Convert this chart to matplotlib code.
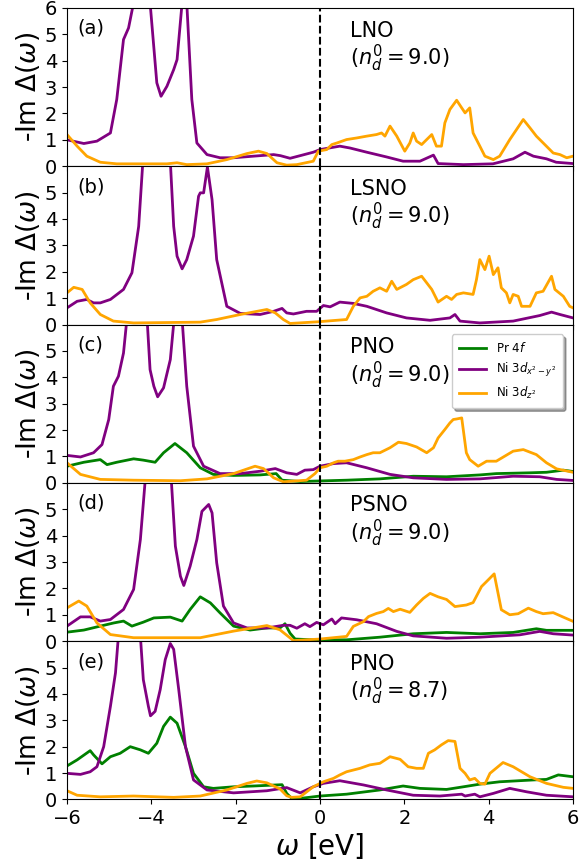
import numpy as np
import matplotlib.pyplot as plt

# hybridization functions, (omega, -Im Delta) pairs per orbital
# (a) LNO
lno_dx2 = [(-6, 1.0), (-5.6, 0.86), (-5.29, 0.95), (-4.97, 1.26), (-4.82, 2.53), (-4.66, 4.8),
           (-4.54, 5.24), (-4.42, 6.2), (-4.22, 9.0), (-4.03, 6.2), (-3.87, 3.16), (-3.77, 2.65),
           (-3.63, 3.03), (-3.47, 3.66), (-3.39, 4.04), (-3.27, 6.2), (-3.21, 8.0), (-3.16, 6.2),
           (-3.04, 2.53), (-2.92, 0.88), (-2.68, 0.44), (-2.37, 0.32), (-2.05, 0.32), (-1.58, 0.38),
           (-1.1, 0.44), (-0.94, 0.4), (-0.71, 0.3), (-0.47, 0.4), (-0.16, 0.53), (0.0, 0.63),
           (0.47, 0.76), (0.71, 0.69), (1.11, 0.53), (1.58, 0.35), (1.97, 0.19), (2.37, 0.19),
           (2.69, 0.42), (2.8, 0.1), (3.4, 0.06), (4.1, 0.09), (4.58, 0.28), (4.86, 0.53),
           (5.06, 0.38), (5.37, 0.28), (5.6, 0.15), (6.0, 0.1)]
lno_dz2 = [(-6, 1.2), (-5.76, 0.76), (-5.53, 0.38), (-5.21, 0.15), (-4.82, 0.09), (-3.63, 0.09),
           (-3.39, 0.13), (-3.16, 0.06), (-2.68, 0.09), (-2.21, 0.25), (-1.73, 0.48), (-1.46, 0.57),
           (-1.26, 0.48), (-1.02, 0.13), (-0.79, 0.04), (-0.55, 0.06), (-0.16, 0.19), (-0.04, 0.57),
           (0.16, 0.63), (0.28, 0.82), (0.4, 0.88), (0.63, 1.01), (0.87, 1.07), (1.11, 1.14),
           (1.34, 1.2), (1.46, 1.26), (1.54, 1.14), (1.66, 1.52), (1.82, 1.14), (2.01, 0.57),
           (2.13, 0.88), (2.21, 1.26), (2.29, 0.95), (2.41, 0.82), (2.65, 1.2), (2.76, 0.76),
           (2.88, 0.76), (2.96, 1.64), (3.08, 2.15), (3.24, 2.5), (3.36, 2.21), (3.44, 2.02),
           (3.55, 2.21), (3.63, 1.26), (3.79, 0.76), (3.91, 0.38), (4.11, 0.25), (4.26, 0.38),
           (4.5, 1.01), (4.82, 1.77), (4.98, 1.45), (5.13, 1.14), (5.33, 0.82), (5.53, 0.5),
           (5.69, 0.44), (5.85, 0.32), (6.0, 0.38)]

# (b) LSNO
lsno_dx2 = [(-6, 0.63), (-5.76, 0.88), (-5.53, 0.95), (-5.37, 0.82), (-5.21, 0.82), (-4.97, 0.95),
            (-4.66, 1.33), (-4.46, 1.96), (-4.3, 3.72), (-4.2, 6.2), (-3.9, 9.0), (-3.55, 6.2),
            (-3.47, 3.72), (-3.39, 2.59), (-3.27, 2.11), (-3.16, 2.46), (-3.0, 3.35), (-2.88, 4.86),
            (-2.84, 4.99), (-2.76, 4.99), (-2.67, 5.97), (-2.56, 4.73), (-2.45, 2.46), (-2.21, 0.69),
            (-1.89, 0.42), (-1.42, 0.38), (-1.1, 0.5), (-0.9, 0.61), (-0.79, 0.44), (-0.63, 0.4),
            (-0.32, 0.5), (-0.08, 0.5), (0.08, 0.72), (0.24, 0.67), (0.47, 0.85), (0.79, 0.8),
            (1.11, 0.69), (1.58, 0.44), (2.05, 0.25), (2.61, 0.16), (3.08, 0.25), (3.2, 0.38),
            (3.32, 0.13), (3.79, 0.06), (4.58, 0.13), (5.21, 0.34), (5.49, 0.47), (5.69, 0.38),
            (6.0, 0.25)]
lsno_dz2 = [(-6, 1.2), (-5.84, 1.41), (-5.64, 1.33), (-5.45, 0.82), (-5.21, 0.38), (-4.9, 0.13),
            (-4.42, 0.06), (-2.84, 0.09), (-2.45, 0.19), (-1.89, 0.38), (-1.26, 0.57), (-1.06, 0.44),
            (-0.87, 0.19), (-0.71, 0.04), (-0.08, 0.1), (0.63, 0.19), (0.79, 0.69), (0.95, 1.01),
            (1.11, 1.07), (1.26, 1.26), (1.42, 1.39), (1.58, 1.26), (1.7, 1.64), (1.82, 1.33),
            (2.05, 1.52), (2.21, 1.7), (2.41, 1.83), (2.53, 1.58), (2.65, 1.33), (2.8, 0.85),
            (3.0, 1.07), (3.12, 0.95), (3.24, 1.14), (3.4, 1.2), (3.63, 1.14), (3.71, 1.7),
            (3.79, 2.46), (3.91, 2.08), (4.01, 2.59), (4.11, 1.89), (4.22, 2.15), (4.3, 1.39),
            (4.42, 1.2), (4.5, 0.82), (4.58, 1.14), (4.7, 1.07), (4.78, 0.69), (4.98, 0.69),
            (5.13, 1.2), (5.29, 1.26), (5.49, 1.83), (5.57, 1.33), (5.77, 1.07), (5.92, 0.69),
            (6.0, 0.63)]

# (c) PNO, n_d = 9.0
pno_f = [(-6, 0.63), (-5.6, 0.78), (-5.21, 0.88), (-5.05, 0.69), (-4.82, 0.78), (-4.42, 0.91),
         (-4.19, 0.86), (-3.91, 0.78), (-3.71, 1.14), (-3.44, 1.49), (-3.16, 1.14), (-2.84, 0.57),
         (-2.53, 0.32), (-2.05, 0.28), (-1.42, 0.3), (-1.04, 0.35), (-0.9, 0.1), (-0.47, 0.05),
         (0.63, 0.1), (1.42, 0.15), (2.21, 0.25), (3.0, 0.23), (3.79, 0.3), (4.18, 0.35),
         (4.98, 0.38), (5.37, 0.4), (5.77, 0.48), (6.0, 0.43)]
pno_dx2 = [(-6, 1.04), (-5.68, 0.98), (-5.37, 1.14), (-5.17, 1.45), (-5.01, 2.4), (-4.9, 3.66),
           (-4.78, 4.04), (-4.66, 4.92), (-4.58, 6.2), (-4.35, 9.0), (-4.1, 6.2), (-4.03, 4.29),
           (-3.94, 3.66), (-3.85, 3.26), (-3.71, 3.6), (-3.55, 4.67), (-3.46, 6.2), (-3.37, 7.5),
           (-3.27, 6.2), (-3.16, 3.66), (-3.0, 1.39), (-2.76, 0.63), (-2.37, 0.35), (-1.89, 0.35),
           (-1.42, 0.44), (-1.06, 0.54), (-0.79, 0.38), (-0.55, 0.32), (-0.36, 0.48), (-0.16, 0.5),
           (0.0, 0.63), (0.32, 0.73), (0.63, 0.76), (1.11, 0.57), (1.66, 0.32), (2.21, 0.19),
           (3.0, 0.13), (3.79, 0.15), (4.58, 0.25), (5.21, 0.23), (5.61, 0.13), (6.0, 0.09)]
pno_dz2 = [(-6, 0.76), (-5.68, 0.32), (-5.21, 0.13), (-4.42, 0.1), (-3.31, 0.08), (-2.68, 0.15),
           (-2.05, 0.35), (-1.54, 0.63), (-1.34, 0.54), (-1.1, 0.19), (-0.87, 0.04), (-0.32, 0.1),
           (-0.12, 0.35), (0.0, 0.57), (0.16, 0.63), (0.32, 0.76), (0.43, 0.82), (0.59, 0.82),
           (0.79, 0.88), (0.95, 0.98), (1.11, 1.07), (1.26, 1.14), (1.42, 1.14), (1.66, 1.33),
           (1.86, 1.54), (2.05, 1.49), (2.29, 1.36), (2.53, 1.14), (2.69, 1.33), (2.8, 1.7),
           (2.96, 2.02), (3.08, 2.27), (3.16, 2.4), (3.24, 2.42), (3.36, 2.46), (3.47, 1.14),
           (3.55, 0.88), (3.75, 0.63), (3.95, 0.82), (4.18, 0.82), (4.58, 1.2), (4.82, 1.26),
           (5.13, 1.07), (5.37, 0.76), (5.61, 0.53), (6.0, 0.4)]

# (d) PSNO
psno_f = [(-6, 0.34), (-5.6, 0.42), (-5.21, 0.57), (-4.89, 0.69), (-4.66, 0.76), (-4.46, 0.57),
          (-4.19, 0.72), (-3.94, 0.88), (-3.55, 0.91), (-3.27, 0.76), (-3.08, 1.2), (-2.84, 1.68),
          (-2.6, 1.45), (-2.37, 1.07), (-2.05, 0.57), (-1.66, 0.42), (-1.26, 0.5), (-0.95, 0.5),
          (-0.83, 0.66), (-0.71, 0.3), (-0.59, 0.08), (-0.16, 0.05), (0.63, 0.05), (1.42, 0.15),
          (2.21, 0.28), (3.0, 0.33), (3.79, 0.28), (4.58, 0.33), (5.13, 0.47), (5.37, 0.41),
          (6.0, 0.41)]
psno_dx2 = [(-6, 0.57), (-5.68, 0.92), (-5.45, 0.92), (-5.21, 0.76), (-4.97, 0.82), (-4.66, 1.2),
            (-4.42, 1.96), (-4.26, 3.85), (-4.14, 6.2), (-3.85, 9.0), (-3.53, 6.2), (-3.43, 3.6),
            (-3.31, 2.46), (-3.23, 2.11), (-3.08, 2.84), (-2.92, 3.85), (-2.8, 4.92), (-2.64, 5.18),
            (-2.56, 4.86), (-2.45, 2.97), (-2.29, 1.33), (-2.05, 0.69), (-1.73, 0.5), (-1.26, 0.5),
            (-0.87, 0.6), (-0.71, 0.6), (-0.55, 0.49), (-0.36, 0.66), (-0.24, 0.55), (-0.08, 0.71),
            (0.08, 0.62), (0.28, 0.84), (0.36, 0.66), (0.51, 0.88), (0.87, 0.81), (1.34, 0.66),
            (1.82, 0.37), (2.21, 0.2), (3.0, 0.11), (3.79, 0.15), (4.74, 0.24), (5.21, 0.37),
            (5.53, 0.28), (6.0, 0.23)]
psno_dz2 = [(-6, 1.26), (-5.72, 1.52), (-5.53, 1.33), (-5.29, 0.69), (-4.97, 0.25), (-4.42, 0.13),
            (-2.84, 0.13), (-2.05, 0.38), (-1.26, 0.59), (-0.95, 0.43), (-0.63, 0.02), (0.0, 0.08),
            (0.63, 0.18), (0.79, 0.56), (1.03, 0.74), (1.15, 0.93), (1.34, 1.05), (1.5, 1.12),
            (1.62, 1.24), (1.74, 1.12), (1.9, 1.21), (2.13, 1.09), (2.29, 1.37), (2.45, 1.62),
            (2.61, 1.81), (2.8, 1.68), (3.0, 1.58), (3.2, 1.31), (3.47, 1.37), (3.63, 1.46),
            (3.83, 2.07), (3.95, 2.26), (4.13, 2.55), (4.3, 1.19), (4.5, 1.0), (4.7, 1.04),
            (4.94, 1.25), (5.13, 1.12), (5.29, 1.04), (5.53, 1.08), (5.77, 0.91), (6.0, 0.75)]

# (e) PNO, n_d = 8.7
pno87_f = [(-6, 1.27), (-5.76, 1.5), (-5.45, 1.85), (-5.37, 1.69), (-5.17, 1.35), (-4.97, 1.62),
           (-4.74, 1.75), (-4.5, 2.0), (-4.26, 1.88), (-4.07, 1.75), (-3.87, 2.13), (-3.71, 2.77),
           (-3.55, 3.12), (-3.39, 2.89), (-3.19, 2.0), (-3.0, 0.99), (-2.76, 0.48), (-2.53, 0.42),
           (-2.05, 0.48), (-1.58, 0.51), (-0.9, 0.56), (-0.79, 0.23), (-0.67, 0.04), (-0.47, 0.04),
           (0.0, 0.13), (0.63, 0.2), (1.42, 0.36), (1.97, 0.51), (2.37, 0.42), (3.0, 0.38),
           (3.4, 0.48), (3.79, 0.58), (4.26, 0.67), (5.06, 0.74), (5.37, 0.76), (5.65, 0.93),
           (6.0, 0.86)]
pno87_dx2 = [(-6, 0.99), (-5.68, 0.95), (-5.45, 1.05), (-5.29, 1.24), (-5.13, 2.0), (-4.97, 3.53),
             (-4.85, 4.8), (-4.78, 6.2), (-4.5, 9.0), (-4.26, 6.2), (-4.19, 4.54), (-4.07, 3.53),
             (-4.02, 3.17), (-3.91, 3.34), (-3.79, 4.16), (-3.67, 5.3), (-3.55, 5.91), (-3.47, 5.69),
             (-3.35, 4.16), (-3.19, 2.0), (-3.0, 0.74), (-2.68, 0.36), (-2.05, 0.25), (-1.26, 0.33),
             (-0.79, 0.45), (-0.47, 0.25), (-0.16, 0.48), (0.08, 0.61), (0.47, 0.71), (1.03, 0.55),
             (1.58, 0.36), (2.21, 0.16), (2.84, 0.13), (3.36, 0.2), (3.44, 0.13), (3.67, 0.2),
             (3.79, 0.1), (4.11, 0.23), (4.5, 0.42), (4.9, 0.29), (5.37, 0.16), (6.0, 0.1)]
pno87_dz2 = [(-6, 0.33), (-5.76, 0.16), (-5.21, 0.1), (-4.42, 0.13), (-3.47, 0.08), (-2.84, 0.13),
             (-2.21, 0.36), (-1.73, 0.61), (-1.5, 0.7), (-1.26, 0.63), (-0.95, 0.4), (-0.79, 0.14),
             (-0.67, 0.08), (-0.47, 0.1), (-0.16, 0.48), (0.08, 0.67), (0.32, 0.8), (0.47, 0.93),
             (0.63, 1.05), (0.95, 1.18), (1.18, 1.31), (1.42, 1.37), (1.66, 1.62), (1.9, 1.52),
             (2.09, 1.24), (2.29, 1.18), (2.45, 1.18), (2.57, 1.75), (2.72, 1.88), (2.88, 2.07),
             (3.04, 2.23), (3.2, 2.2), (3.32, 1.18), (3.44, 0.99), (3.55, 0.74), (3.67, 0.8),
             (3.79, 0.61), (3.91, 0.58), (4.03, 0.99), (4.34, 1.4), (4.58, 1.24), (4.98, 0.86),
             (5.37, 0.61), (5.77, 0.46), (6.0, 0.42)]

panels = [
    ('(a)', 'LNO', '9.0', None, lno_dx2, lno_dz2),
    ('(b)', 'LSNO', '9.0', None, lsno_dx2, lsno_dz2),
    ('(c)', 'PNO', '9.0', pno_f, pno_dx2, pno_dz2),
    ('(d)', 'PSNO', '9.0', psno_f, psno_dx2, psno_dz2),
    ('(e)', 'PNO', '8.7', pno87_f, pno87_dx2, pno87_dz2),
]

fig = plt.figure(figsize=(5.79, 8.67), dpi=100)
left, width = 0.1157, 0.874
bottom, height = 0.0779, 0.1826

axes = []
for i, (tag, name, nd, f4, dx2, dz2) in enumerate(panels):
    ax = fig.add_axes([left, bottom + (4 - i) * height, width, height],
                      sharex=axes[0] if axes else None)
    axes.append(ax)
    if f4 is not None:
        x, y = np.array(f4).T
        ax.plot(x, y, color='green', lw=2, label='Pr 4$f$')
    x, y = np.array(dx2).T
    ax.plot(x, y, color='purple', lw=2, label='Ni 3$d_{x^2-y^2}$')
    x, y = np.array(dz2).T
    ax.plot(x, y, color='orange', lw=2, label='Ni 3$d_{z^2}$')
    ax.axvline(0, color='k', ls='--', lw=1.5)
    ax.set_xlim(-6, 6)
    ax.set_ylim(0, 6)
    ax.set_yticks(range(0, 7) if i == 0 else range(0, 6))
    ax.tick_params(labelsize=14)
    ax.set_ylabel(r'-Im $\Delta(\omega)$', fontsize=19, labelpad=2)
    ax.text(0.02, 0.93, tag, transform=ax.transAxes, fontsize=14, va='top')
    ax.text(0.56, 0.92, name + '\n' + r'($n_d^0=%s$)' % nd, transform=ax.transAxes,
            fontsize=15, va='top', linespacing=1.1)
    if i < 4:
        ax.tick_params(labelbottom=False)
    if i == 2:
        ax.legend(loc='upper right', fontsize=8.5, shadow=True, fancybox=True,
                  bbox_to_anchor=(0.992, 0.975), handlelength=2.3, borderpad=0.6)

axes[-1].set_xticks([-6, -4, -2, 0, 2, 4, 6])
axes[-1].set_xlabel(r'$\omega$ [eV]', fontsize=20, labelpad=2)

fig.savefig('out.png', dpi=100)
